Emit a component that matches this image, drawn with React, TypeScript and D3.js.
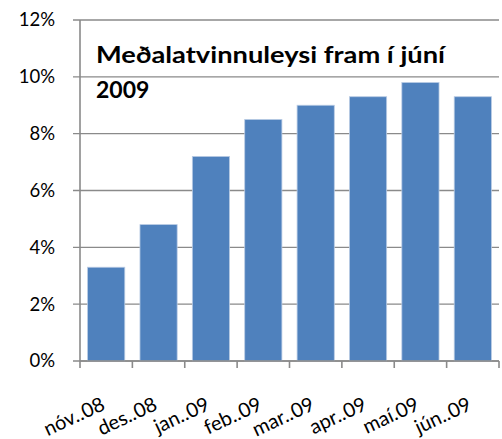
import React from "react";
import * as d3 from "d3";

const categories = ["nóv..08", "des..08", "jan..09", "feb..09", "mar..09", "apr..09", "maí.09", "jún..09"];
const values = [3.3, 4.8, 7.2, 8.5, 9.0, 9.3, 9.8, 9.3];
const yTicks = [0, 2, 4, 6, 8, 10, 12];
const titleLines = ["Meðalatvinnuleysi fram í júní", "2009"];

const W = 502;
const H = 439;
const left = 80;
const right = 499;
const top = 20;
const bottom = 361;
const font = "Lato, 'Noto Sans', sans-serif";
const gridColor = "#8a8a8a";

export default function App() {
  const x = d3.scaleBand<string>().domain(categories).range([left, right]).paddingInner(0.29).paddingOuter(0.145);
  const xb = d3.scaleBand<string>().domain(categories).range([left, right]);
  const y = d3.scaleLinear().domain([0, 12]).range([bottom, top]);

  return (
    <svg width={W} height={H} style={{ position: "absolute", left: 0, top: 0, background: "#fff" }}>
      {yTicks.map((t) => (
        <g key={t}>
          <line x1={73} x2={right} y1={y(t)} y2={y(t)} stroke={gridColor} strokeWidth={1.3} />
          <text x={55} y={y(t)} dy="0.35em" textAnchor="end" fontFamily={font} fontSize={18.5} fill="#000">
            {t}%
          </text>
        </g>
      ))}
      {categories.map((c, i) => (
        <rect
          key={c}
          x={x(c)}
          y={y(values[i])}
          width={x.bandwidth()}
          height={bottom - y(values[i])}
          fill="#4F81BD"
          stroke="#b9cbe4"
          strokeWidth={0.8}
        />
      ))}
      <line x1={left} x2={left} y1={top} y2={bottom + 7} stroke={gridColor} strokeWidth={1.6} />
      <line x1={left} x2={right} y1={bottom} y2={bottom} stroke={gridColor} strokeWidth={1.6} />
      {categories.map((c) => (
        <line key={"t" + c} x1={(xb(c) as number) + xb.bandwidth()} x2={(xb(c) as number) + xb.bandwidth()} y1={bottom} y2={bottom + 7} stroke={gridColor} strokeWidth={1.6} />
      ))}
      {categories.map((c) => {
        const cx = (xb(c) as number) + xb.bandwidth() / 2;
        return (
          <text
            key={"l" + c}
            transform={`translate(${cx},${409}) rotate(-25)`}
            textAnchor="end"
            fontFamily={font}
            fontSize={20}
            fill="#000"
          >
            {c}
          </text>
        );
      })}
      <text x={96} y={63.3} fontFamily={font} fontWeight="bold" fontSize={23} fill="#000" textLength={349} lengthAdjust="spacingAndGlyphs">
        {titleLines[0]}
      </text>
      <text x={96} y={97.7} fontFamily={font} fontWeight="bold" fontSize={23} fill="#000">
        {titleLines[1]}
      </text>
    </svg>
  );
}
